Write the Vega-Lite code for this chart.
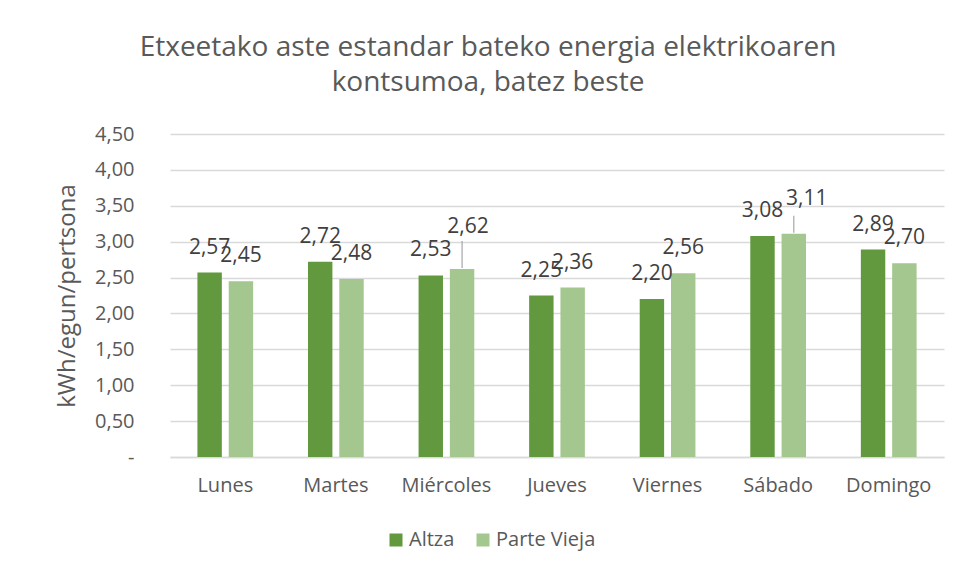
{
  "$schema": "https://vega.github.io/schema/vega-lite/v6.json",
  "width": 774,
  "height": 323,
  "autosize": {"type": "none"},
  "padding": {"left": 170, "top": 134, "right": 12, "bottom": 116},
  "background": "white",
  "config": {
    "font": "Open Sans",
    "view": {"stroke": null},
    "locale": {"number": {"decimal": ",", "thousands": ".", "grouping": [3], "currency": ["", " €"]}}
  },
  "title": {
    "text": ["Etxeetako aste estandar bateko energia elektrikoaren", "kontsumoa, batez beste"],
    "fontSize": 28,
    "fontWeight": "normal",
    "color": "#595959",
    "font": "Open Sans",
    "anchor": "middle",
    "dx": -69,
    "lineHeight": 35,
    "offset": 27
  },
  "data": {
    "values": [
      {"day": "Lunes", "series": "Altza", "value": 2.57},
      {"day": "Lunes", "series": "Parte Vieja", "value": 2.45},
      {"day": "Martes", "series": "Altza", "value": 2.72},
      {"day": "Martes", "series": "Parte Vieja", "value": 2.48},
      {"day": "Miércoles", "series": "Altza", "value": 2.53},
      {"day": "Miércoles", "series": "Parte Vieja", "value": 2.62},
      {"day": "Jueves", "series": "Altza", "value": 2.25},
      {"day": "Jueves", "series": "Parte Vieja", "value": 2.36},
      {"day": "Viernes", "series": "Altza", "value": 2.20},
      {"day": "Viernes", "series": "Parte Vieja", "value": 2.56},
      {"day": "Sábado", "series": "Altza", "value": 3.08},
      {"day": "Sábado", "series": "Parte Vieja", "value": 3.11},
      {"day": "Domingo", "series": "Altza", "value": 2.89},
      {"day": "Domingo", "series": "Parte Vieja", "value": 2.70}
    ]
  },
  "encoding": {
    "x": {
      "field": "day",
      "type": "nominal",
      "sort": ["Lunes", "Martes", "Miércoles", "Jueves", "Viernes", "Sábado", "Domingo"],
      "scale": {"paddingInner": 0.496, "paddingOuter": 0.248},
      "axis": {
        "title": null,
        "labelAngle": 0,
        "ticks": false,
        "domain": true,
        "domainColor": "#d9d9d9",
        "domainWidth": 1.3,
        "labelFontSize": 20,
        "labelColor": "#595959",
        "labelFont": "Open Sans",
        "labelPadding": 18
      }
    },
    "xOffset": {
      "field": "series",
      "type": "nominal",
      "sort": ["Altza", "Parte Vieja"],
      "scale": {"paddingInner": 0.22}
    },
    "y": {
      "field": "value",
      "type": "quantitative",
      "scale": {"domain": [0, 4.5]},
      "axis": {
        "values": [0, 0.5, 1, 1.5, 2, 2.5, 3, 3.5, 4, 4.5],
        "format": ".2f",
        "labelExpr": "datum.value === 0 ? '-\u00a0\u00a0' : datum.label",
        "domain": false,
        "ticks": false,
        "grid": true,
        "gridColor": "#d9d9d9",
        "gridWidth": 1.3,
        "labelFontSize": 20,
        "labelColor": "#595959",
        "labelFont": "Open Sans",
        "labelPadding": 36,
        "title": "kWh/egun/pertsona",
        "titleFontSize": 24,
        "titleFontWeight": "normal",
        "titleColor": "#595959",
        "titleFont": "Open Sans",
        "titlePadding": 15
      }
    }
  },
  "layer": [
    {
      "mark": {"type": "bar"},
      "encoding": {
        "color": {
          "field": "series",
          "type": "nominal",
          "scale": {"domain": ["Altza", "Parte Vieja"], "range": ["#62993e", "#a4c68f"]},
          "legend": {
            "title": null,
            "orient": "none",
            "direction": "horizontal",
            "legendX": 216,
            "legendY": 396,
            "padding": 0,
            "symbolType": "square",
            "symbolSize": 169,
            "symbolStrokeWidth": 0,
            "labelFontSize": 20,
            "labelColor": "#595959",
            "labelFont": "Open Sans",
            "labelOffset": 3,
            "columnPadding": 18
          }
        }
      }
    },
    {
      "transform": [{"filter": "!((datum.day == 'Miércoles' || datum.day == 'Sábado') && datum.series == 'Parte Vieja')"}],
      "mark": {"type": "text", "dy": -25, "baseline": "middle", "fontSize": 21, "color": "#404040", "font": "Open Sans"},
      "encoding": {"text": {"field": "value", "type": "quantitative", "format": ".2f"}}
    },
    {
      "transform": [{"filter": "datum.day == 'Miércoles' && datum.series == 'Parte Vieja'"}],
      "mark": {"type": "text", "dx": 6, "dy": -42, "baseline": "middle", "fontSize": 21, "color": "#404040", "font": "Open Sans"},
      "encoding": {"text": {"field": "value", "type": "quantitative", "format": ".2f"}}
    },
    {
      "transform": [{"filter": "datum.day == 'Sábado' && datum.series == 'Parte Vieja'"}],
      "mark": {"type": "text", "dx": 13, "dy": -35, "baseline": "middle", "fontSize": 21, "color": "#404040", "font": "Open Sans"},
      "encoding": {"text": {"field": "value", "type": "quantitative", "format": ".2f"}}
    },
    {
      "transform": [{"filter": "datum.day == 'Miércoles' && datum.series == 'Parte Vieja'"}],
      "mark": {"type": "rule", "color": "#a6a6a6", "strokeWidth": 1.2, "yOffset": -1, "y2Offset": -28},
      "encoding": {"y2": {"field": "value"}}
    },
    {
      "transform": [{"filter": "datum.day == 'Sábado' && datum.series == 'Parte Vieja'"}],
      "mark": {"type": "rule", "color": "#a6a6a6", "strokeWidth": 1.2, "yOffset": -1, "y2Offset": -18},
      "encoding": {"y2": {"field": "value"}}
    }
  ]
}
